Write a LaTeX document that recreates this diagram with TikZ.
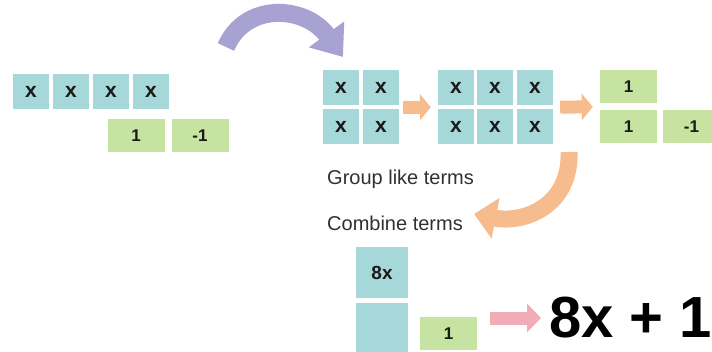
\documentclass[tikz,border=0pt]{standalone}
\usepackage{fontspec}
\setmainfont{Liberation Sans}
\usetikzlibrary{arrows.meta,calc}

\definecolor{tileteal}{HTML}{A6D7D9}
\definecolor{tilegreen}{HTML}{C6E3A2}
\definecolor{arrowpurple}{HTML}{A7A2D2}
\definecolor{arroworange}{HTML}{F6BC8E}
\definecolor{arrowpink}{HTML}{F1ACB8}
\definecolor{labelgray}{HTML}{303030}

\tikzset{
  xtile/.style={fill=tileteal, minimum width=36pt, minimum height=35pt, inner sep=0pt,
    text=black!90, font=\bfseries\fontsize{21}{21}\selectfont},
  unittile/.style={fill=tilegreen, minimum width=57pt, minimum height=33pt, inner sep=0pt,
    text=black!90, font=\bfseries\fontsize{17}{17}\selectfont},
  steplabel/.style={anchor=base west, inner sep=0pt, text=labelgray, font=\fontsize{20}{20}\selectfont},
  steparrow/.style={draw=arroworange, line width=13pt, -{Triangle[length=11pt,width=26pt]}},
}

\begin{document}
\begin{tikzpicture}[x=1pt,y=-1pt]
  \clip (0,0) rectangle (712,352);

  % starting tiles
  \node[xtile] (s1) at (31,91.5) {x};
  \node[xtile] (s2) at (71,91.5) {x};
  \node[xtile] (s3) at (111,91.5) {x};
  \node[xtile] (s4) at (151,91.5) {x};
  \node[unittile] (su) at (136,135.5) {1};
  \node[unittile] (sm) at (200,135.5) {-1};

  % the arrow over the top
  \coordinate (pTail) at (226,47);
  \coordinate (pTip) at (343,57);
  \draw[draw=arrowpurple, line width=18pt, -{Triangle[length=28pt,width=42pt]}]
    (pTail) .. controls (245,2) and (305,5) .. (pTip);

  % grouped x tiles
  \node[xtile] (p11) at (341,87.5) {x};
  \node[xtile] (p12) at (381,87.5) {x};
  \node[xtile] (p21) at (341,127) {x};
  \node[xtile] (p22) at (381,127) {x};

  \node[xtile] (q11) at (456,87.5) {x};
  \node[xtile] (q12) at (495,87.5) {x};
  \node[xtile] (q13) at (535,87.5) {x};
  \node[xtile] (q21) at (456,127) {x};
  \node[xtile] (q22) at (495,127) {x};
  \node[xtile] (q23) at (535,127) {x};

  \node[unittile] (r1) at (628.5,87) {1};
  \node[unittile] (r2) at (628.5,126.5) {1};
  \node[unittile] (r3) at (691.5,126.5) {-1};

  \draw[steparrow, shorten <=4pt, shorten >=7pt]
    ($(p12.east)!.5!(p22.east)$) -- ($(q11.west)!.5!(q21.west)$);
  \draw[steparrow, shorten <=7pt, shorten >=7pt]
    ($(q13.east)!.5!(q23.east)$) -- ($(r1.west)!.5!(r2.west)$);

  \node[steplabel] (group) at (327,185) {Group like terms};
  \node[steplabel] (combine) at (327,231) {Combine terms};

  % the arrow down to the result
  \coordinate (oTail) at (569,152);
  \coordinate (oTip) at (474,214);
  \draw[draw=arroworange, line width=17pt, -{Triangle[length=22pt,width=40pt]}]
    (oTail) .. controls (571,205) and (525,224) .. (oTip);

  % combined tiles
  \node[xtile, minimum width=52pt, minimum height=51pt, font=\bfseries\fontsize{19}{19}\selectfont]
    (eight) at (382,272.5) {8x};
  \node[xtile, minimum width=52pt, minimum height=50pt] (blank) at (382,328) {};
  \node[unittile] (one) at (448.5,333.5) {1};

  \node[anchor=base west, inner sep=0pt, font=\bfseries\fontsize{58}{58}\selectfont]
    (res) at (549,338) {8x + 1};

  \draw[draw=arrowpink, line width=13pt, -{Triangle[length=14pt,width=28pt]},
    shorten <=13pt, shorten >=8pt] (one.east |- res.west) -- (res.west);

\end{tikzpicture}
\end{document}
